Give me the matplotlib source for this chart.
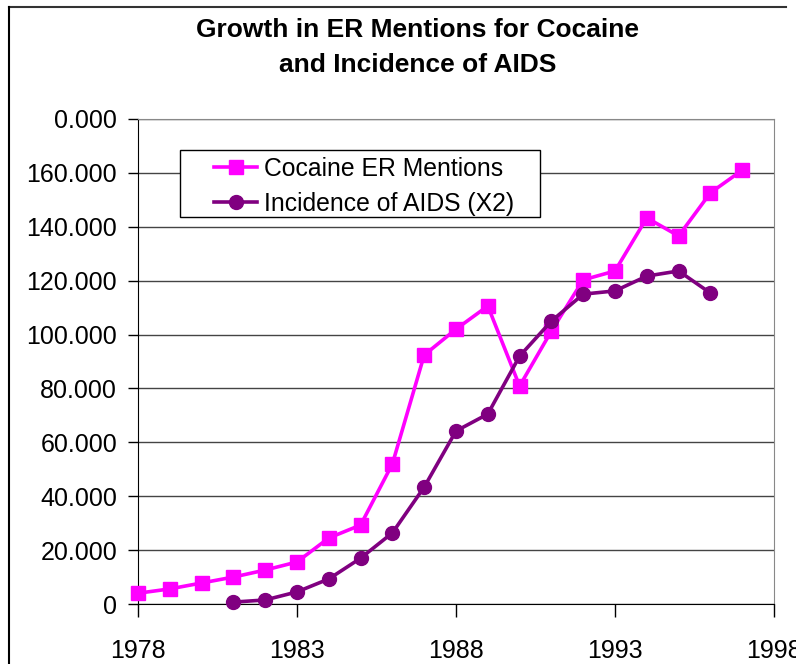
import numpy as np
import matplotlib
matplotlib.use('Agg')
import matplotlib.pyplot as plt
from matplotlib.lines import Line2D
from matplotlib.patches import Rectangle

plt.rcParams['font.family'] = ['Liberation Sans', 'DejaVu Sans']

years_coc = [1978, 1979, 1980, 1981, 1982, 1983, 1984, 1985, 1986, 1987,
             1988, 1989, 1990, 1991, 1992, 1993, 1994, 1995, 1996, 1997]
cocaine = [4.0, 5.6, 7.8, 10.0, 12.6, 15.6, 24.5, 29.3, 52.0, 92.4,
           102.0, 110.6, 80.9, 101.3, 120.3, 123.6, 143.3, 136.6, 152.6, 161.0]

years_aids = [1981, 1982, 1983, 1984, 1985, 1986, 1987, 1988,
              1989, 1990, 1991, 1992, 1993, 1994, 1995, 1996]
aids = [0.7, 1.5, 4.5, 9.3, 17.0, 26.4, 43.4, 64.2,
        70.5, 92.0, 105.0, 115.0, 116.2, 121.7, 123.6, 115.4]

yticks = [0, 20, 40, 60, 80, 100, 120, 140, 160, 180]
ytick_labels = ['0', '20.000', '40.000', '60.000', '80.000', '100.000',
                '120.000', '140.000', '160.000', '0.000']
xticks = [1978, 1983, 1988, 1993, 1998]

fs = 18
fig = plt.figure(figsize=(7.96, 6.64), dpi=100)
ax = fig.add_axes([138/796, 1-604/664, 636/796, 485/664])

ax.plot(years_coc, cocaine, '-s', color='#FF00FF', lw=2.6, ms=10,
        label='Cocaine ER Mentions', zorder=3, clip_on=False)
ax.plot(years_aids, aids, '-o', color='#800080', lw=2.6, ms=10,
        label='Incidence of AIDS (X2)', zorder=3, clip_on=False)

ax.set_xlim(1978, 1998)
ax.set_ylim(0, 180)
ax.set_yticks(yticks)
ax.set_yticklabels(ytick_labels, fontsize=fs)
ax.set_xticks(xticks)
ax.set_xticklabels([str(x) for x in xticks], fontsize=fs)
ax.tick_params(axis='y', direction='out', length=7, width=1, pad=8)
ax.tick_params(axis='x', direction='out', length=9, width=1, pad=16)
ax.yaxis.grid(True, color='#444444', lw=1)
ax.set_axisbelow(True)
ax.spines['left'].set_color('black')
ax.spines['bottom'].set_color('black')
ax.spines['top'].set_color('#888888')
ax.spines['right'].set_color('#888888')

# legend box (wider than the legend entries, as in the original)
x0, x1 = (180-138)/636, (540-138)/636
y0, y1 = (604-217)/485, (604-150)/485
ax.add_patch(Rectangle((x0, y0), x1-x0, y1-y0, transform=ax.transAxes,
                       facecolor='white', edgecolor='black', lw=1, zorder=4))
leg = ax.legend(loc='center', bbox_to_anchor=((x0+x1)/2 + 4/636, (y0+y1)/2 - 3/485),
                borderaxespad=0, fontsize=17.8, frameon=False, handlelength=1.75,
                handletextpad=0.25, borderpad=0.2, labelspacing=0.45)
leg.set_zorder(5)

fig.text(418/796, 1-30/664, 'Growth in ER Mentions for Cocaine', ha='center', va='center',
         fontsize=19, fontweight='bold')
fig.text(418/796, 1-65/664, 'and Incidence of AIDS', ha='center', va='center',
         fontsize=19, fontweight='bold')

# outer chart frame
fig.add_artist(Line2D([9/796, 786/796], [1-7/664, 1-7/664], color='#333333', lw=1.5))
fig.add_artist(Line2D([9/796, 9/796], [1-7/664, 0], color='black', lw=1.5))

fig.savefig('out.png', dpi=100)
